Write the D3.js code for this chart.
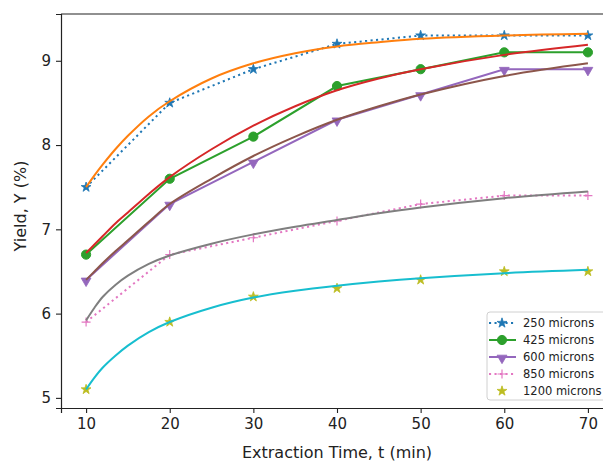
<!DOCTYPE html>
<html>
<head>
<meta charset="utf-8">
<script src="https://cdn.jsdelivr.net/npm/d3@7"></script>
<style>
  body { margin: 0; background: #fff; }
  svg { display: block; font-family: "DejaVu Sans", sans-serif; }
</style>
</head>
<body>
<svg id="chart" width="603" height="463"></svg>
<script>
// --- data ---
const times = [10, 20, 30, 40, 50, 60, 70];

const y250 = [7.5, 8.5, 8.9, 9.2, 9.3, 9.3, 9.3];
const y425 = [6.7, 7.6, 8.1, 8.7, 8.9, 9.1, 9.1];
const y600 = [6.4, 7.3, 7.8, 8.3, 8.6, 8.9, 8.9];
const y850 = [5.9, 6.7, 6.9, 7.1, 7.3, 7.4, 7.4];
const y1200 = [5.1, 5.9, 6.2, 6.3, 6.4, 6.5, 6.5];

// fitted curves, sampled by eye
const fitT = [10, 11, 12, 13.5, 15, 17.5, 20, 25, 30, 35, 40, 45, 50, 60, 70];
const fit250 = [7.5, 7.64, 7.77, 7.95, 8.11, 8.34, 8.52, 8.79, 8.97, 9.09, 9.17, 9.22, 9.26, 9.30, 9.32];
const fit425 = [6.72, 6.82, 6.92, 7.07, 7.2, 7.42, 7.62, 7.95, 8.23, 8.46, 8.65, 8.79, 8.9, 9.07, 9.19];
const fit600 = [6.4, 6.5, 6.6, 6.74, 6.87, 7.09, 7.3, 7.6, 7.87, 8.1, 8.3, 8.46, 8.6, 8.82, 8.97];
const fit850 = [5.92, 6.07, 6.2, 6.34, 6.45, 6.59, 6.69, 6.83, 6.94, 7.03, 7.11, 7.19, 7.26, 7.37, 7.45];
const fit1200 = [5.1, 5.24, 5.36, 5.5, 5.62, 5.78, 5.9, 6.07, 6.19, 6.27, 6.33, 6.38, 6.42, 6.48, 6.52];

const legendLabels = ["250 microns", "425 microns", "600 microns", "850 microns", "1200 microns"];
const xTicks = [10, 20, 30, 40, 50, 60, 70];
const yTicks = [5, 6, 7, 8, 9];

// --- layout ---
const svg = d3.select("#chart");
const W = 603, H = 463;
const m = { left: 61, top: 14, right: 613, bottom: 408 };

svg.append("rect").attr("width", W).attr("height", H).attr("fill", "#fff");

const x = d3.scaleLinear().domain([7, 73]).range([m.left, m.right]);
const y = d3.scaleLinear().domain([4.88, 9.555]).range([m.bottom, m.top]);

const line = d3.line().x(d => x(d[0])).y(d => y(d[1]));
const smooth = d3.line().x(d => x(d[0])).y(d => y(d[1])).curve(d3.curveCatmullRom.alpha(0.5));

const series = [
  { vals: y250, fit: fit250, color: "#1f77b4", fitColor: "#ff7f0e", dash: "2.1,3.4", marker: "star" },
  { vals: y425, fit: fit425, color: "#2ca02c", fitColor: "#d62728", dash: null, marker: "circle" },
  { vals: y600, fit: fit600, color: "#9467bd", fitColor: "#8c564b", dash: null, marker: "tri" },
  { vals: y850, fit: fit850, color: "#e377c2", fitColor: "#7f7f7f", dash: "2.1,3.4", marker: "plus" },
  { vals: y1200, fit: fit1200, color: "#bcbd22", fitColor: "#17becf", dash: "none", marker: "star" }
];

function drawMarker(g, type, color, cx, cy) {
  if (type === "star") {
    g.append("path").attr("transform", `translate(${cx},${cy})`)
      .attr("d", d3.symbol(d3.symbolStar, 30)())
      .attr("fill", color).attr("stroke", color).attr("stroke-width", 0.8);
  } else if (type === "circle") {
    g.append("circle").attr("cx", cx).attr("cy", cy).attr("r", 4.6)
      .attr("fill", color).attr("stroke", color);
  } else if (type === "tri") {
    g.append("path").attr("transform", `translate(${cx},${cy + 1}) rotate(180)`)
      .attr("d", d3.symbol(d3.symbolTriangle, 42)())
      .attr("fill", color).attr("stroke", color).attr("stroke-width", 0.8);
  } else if (type === "plus") {
    g.append("path")
      .attr("d", `M${cx - 4.5},${cy}H${cx + 4.5}M${cx},${cy - 4.5}V${cy + 4.5}`)
      .attr("stroke", color).attr("stroke-width", 1.2).attr("fill", "none");
  }
}

const plot = svg.append("g");

series.forEach(s => {
  const pts = times.map((t, i) => [t, s.vals[i]]);
  if (s.dash !== "none") {
    plot.append("path").datum(pts).attr("d", line)
      .attr("fill", "none").attr("stroke", s.color).attr("stroke-width", 2)
      .attr("stroke-dasharray", s.dash);
  }
  pts.forEach(p => drawMarker(plot, s.marker, s.color, x(p[0]), y(p[1])));
  const fpts = fitT.map((t, i) => [t, s.fit[i]]);
  plot.append("path").datum(fpts).attr("d", smooth)
    .attr("fill", "none").attr("stroke", s.fitColor).attr("stroke-width", 2);
});

// --- axes ---
const xAxis = svg.append("g").attr("transform", `translate(0,${m.bottom})`)
  .call(d3.axisBottom(x).tickValues(xTicks).tickSize(5).tickPadding(5).tickFormat(d3.format("d")));
const yAxis = svg.append("g").attr("transform", `translate(${m.left},0)`)
  .call(d3.axisLeft(y).tickValues(yTicks).tickSize(5).tickPadding(5).tickFormat(d3.format("d")));

[xAxis, yAxis].forEach(a => {
  a.select(".domain").attr("stroke", "#222").attr("stroke-width", 1.2);
  a.selectAll(".tick line").attr("stroke", "#222").attr("stroke-width", 1.1);
  a.selectAll(".tick text").attr("fill", "#222").style("font-size", "15px")
    .style("font-family", "DejaVu Sans, sans-serif");
});
// top spine
svg.append("line").attr("x1", m.left).attr("x2", m.right).attr("y1", m.top).attr("y2", m.top)
  .attr("stroke", "#222").attr("stroke-width", 1.2);

svg.append("text").attr("x", 337).attr("y", 458).attr("text-anchor", "middle")
  .style("font-size", "16px").attr("fill", "#222").text("Extraction Time, t (min)");
svg.append("text").attr("transform", "translate(26,206) rotate(-90)").attr("text-anchor", "middle")
  .style("font-size", "16px").attr("fill", "#222").text("Yield, Y (%)");

// --- legend ---
const leg = svg.append("g");
leg.append("rect").attr("x", 487).attr("y", 312).attr("width", 130).attr("height", 88)
  .attr("rx", 3).attr("fill", "#fff").attr("fill-opacity", 0.85)
  .attr("stroke", "#d0d0d0").attr("stroke-width", 1);

series.forEach((s, i) => {
  const cy = 323 + i * 17;
  if (s.dash !== "none") {
    leg.append("line").attr("x1", 489).attr("x2", 516).attr("y1", cy).attr("y2", cy)
      .attr("stroke", s.color).attr("stroke-width", 2)
      .attr("stroke-dasharray", s.dash);
  }
  drawMarker(leg, s.marker, s.color, 502, cy);
  leg.append("text").attr("x", 523).attr("y", cy + 4).style("font-size", "11.5px")
    .attr("fill", "#222").text(legendLabels[i]);
});
</script>
</body>
</html>
